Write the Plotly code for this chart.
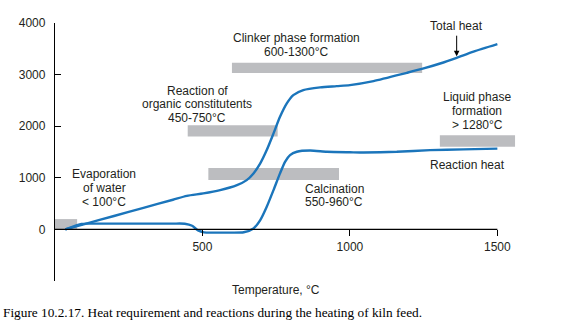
import plotly.graph_objects as go

# ---- data ----
total_T = [35, 100, 200, 300, 400, 447, 503, 560, 617, 650, 673, 696, 718, 741, 763, 786, 808,
           842, 899, 955, 1000, 1080, 1193, 1244, 1306, 1362, 1419, 1500]
total_V = [0, 103, 260, 418, 575, 650, 697, 761, 858, 955, 1085, 1279, 1537, 1860, 2182, 2442, 2603,
           2700, 2752, 2777, 2797, 2875, 3035, 3110, 3215, 3325, 3445, 3590]

react_T = [35, 90, 110, 200, 300, 400, 440, 465, 485, 505, 550, 600, 640, 673, 696, 718, 741, 763,
           780, 797, 820, 865, 922, 1000, 1046, 1159, 1272, 1385, 1500]
react_V = [0, 105, 112, 112, 112, 112, 110, 70, -20, -58, -62, -62, -55, 19, 180, 438, 762, 1085,
           1310, 1440, 1505, 1528, 1505, 1495, 1490, 1504, 1537, 1551, 1565]

# process ranges (gray bars)
bar_names = ["evaporation", "organics", "clinker", "calcination", "liquid"]
bar_T0 = [0, 450, 600, 520, 1305]
bar_T1 = [75, 755, 1245, 963, 1560]
bar_V0 = [0, 1800, 3030, 955, 1600]
bar_V1 = [200, 2020, 3230, 1190, 1825]

y_ticks = [-1000, 0, 1000, 2000, 3000, 4000]
y_ticktext = ["", "0", "1000", "2000", "3000", "4000"]
x_ticks = [500, 1000, 1500]

BLUE = "#1b75bb"
GRAY = "#bcbdc0"
TXT = "#231f20"
FONT = "Liberation Sans, Arial, sans-serif"

fig = go.Figure()

for t0, t1, v0, v1 in zip(bar_T0, bar_T1, bar_V0, bar_V1):
    fig.add_shape(type="rect", xref="x", yref="y", x0=t0, x1=t1, y0=v0, y1=v1,
                  fillcolor=GRAY, line=dict(width=0), layer="below")

# x axis line at y = 0
fig.add_shape(type="line", xref="x", yref="y", x0=0, x1=x_ticks[-1], y0=0, y1=0,
              line=dict(color="black", width=1.2))

fig.add_trace(go.Scatter(x=total_T, y=total_V, mode="lines",
                         line=dict(color=BLUE, width=2.4, shape="spline", smoothing=0.7),
                         name="Total heat", showlegend=False, hoverinfo="skip"))
fig.add_trace(go.Scatter(x=react_T, y=react_V, mode="lines",
                         line=dict(color=BLUE, width=2.4, shape="spline", smoothing=0.6),
                         name="Reaction heat", showlegend=False, hoverinfo="skip"))

# ---- labels ----
labels = [
    (["Evaporation", "of water", "< 100°C"], 167, [1072, 807, 536]),
    (["Reaction of", "organic constitutents", "450-750°C"], 482, [2682, 2424, 2166]),
    (["Clinker phase formation", "600-1300°C"], 820, [3712, 3441]),
    (["Total heat"], 1363, [3944]),
    (["Liquid phase", "formation", "> 1280°C"], 1432, [2569, 2298, 2021]),
    (["Reaction heat"], 1398, [1247]),
    (["Calcination", "550-960°C"], 947, [782, 536]),
]
annotations = []
for lines, xc, ys in labels:
    for line, yc in zip(lines, ys):
        annotations.append(dict(x=xc, y=yc, xref="x", yref="y", text=line, showarrow=False,
                                xanchor="center", yanchor="middle",
                                font=dict(family=FONT, size=12, color=TXT)))

# arrow to total heat curve
annotations.append(dict(x=1362, y=3357, xref="x", yref="y", ax=1362, ay=3783, axref="x", ayref="y",
                        text="", showarrow=True, arrowhead=2, arrowsize=1.1, arrowwidth=1,
                        arrowcolor="black", standoff=0))

L, R, T, B = 55, 53, 23, 55
W = 571 - L - R
H = 336 - T - B

def px(xp):
    return (xp - L) / W

def py(yp):
    return 1 - (yp - T) / H

annotations.append(dict(x=px(276), y=py(289.5), xref="paper", yref="paper",
                        text="Temperature, °C", showarrow=False, xanchor="center", yanchor="middle",
                        font=dict(family=FONT, size=12, color=TXT)))
annotations.append(dict(x=px(1), y=py(312.5), xref="paper", yref="paper",
                        text="Figure 10.2.17. Heat requirement and reactions during the heating of kiln feed.",
                        showarrow=False, xanchor="left", yanchor="middle",
                        font=dict(family="Liberation Serif, Times New Roman, serif", size=13.3, color="black")))

fig.update_layout(
    width=571, height=336,
    margin=dict(l=L, r=R, t=T, b=B, pad=0),
    paper_bgcolor="white", plot_bgcolor="white",
    annotations=annotations,
    xaxis=dict(range=[0, 1570], anchor="free", position=0.2, showline=False, showgrid=False,
               zeroline=False, ticks="outside", ticklen=6, tickwidth=1.2, tickcolor="black",
               tickvals=x_ticks, ticktext=[str(v) for v in x_ticks],
               tickfont=dict(family=FONT, size=12, color=TXT)),
    yaxis=dict(range=[-1000, 4000], showline=True, linecolor="black", linewidth=1.3,
               showgrid=False, zeroline=False, ticks="inside", ticklen=6, tickwidth=1.2,
               tickcolor="black", tickvals=y_ticks, ticktext=y_ticktext,
               ticklabelstandoff=6,
               tickfont=dict(family=FONT, size=12, color=TXT)),
)

fig.write_html("out.html")
